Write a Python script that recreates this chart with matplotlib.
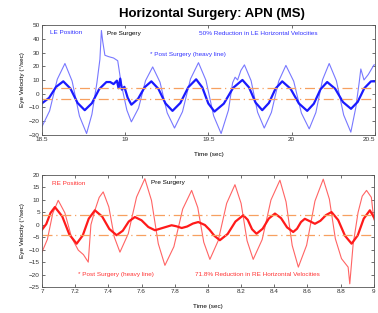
import matplotlib
matplotlib.use("Agg")
import matplotlib.pyplot as plt

# LE (top) - post surgery, heavy line
le_post_t = [18.50, 18.543, 18.585, 18.628, 18.671, 18.714, 18.757, 18.800, 18.844, 18.887,
             18.91, 18.93, 18.95, 18.96, 18.97, 18.98, 18.995, 19.015, 19.037, 19.077, 19.117,
             19.157, 19.199, 19.242, 19.284, 19.331, 19.379, 19.426, 19.463, 19.499, 19.536,
             19.592, 19.648, 19.704, 19.744, 19.783, 19.823, 19.863, 19.903, 19.943, 19.993,
             20.043, 20.093, 20.133, 20.173, 20.213, 20.261, 20.308, 20.356, 20.396, 20.436,
             20.476, 20.50]
le_post_v = [-7, -3, 5, 9, 3.75, -6.75, -12, -6.9, 3.4, 8.5,
             8.5, 7, 9.5, 4, 11, 3, 5, -3, -8, -3.75, 4.75,
             9, 3.6, -7.1, -12.5, -6.75, 4.75, 10.5, 4.6, -7.1, -13,
             -7.25, 4.25, 10, 4.5, -6.5, -12, -6.75, 3.75, 9, 3.6,
             -7.1, -12.5, -7.25, 3.25, 8.5, 3.6, -6.1, -11, -6, 4,
             9, 9]

# LE (top) - pre surgery
le_pre_t = [18.50, 18.546, 18.592, 18.638, 18.681, 18.725, 18.768, 18.80, 18.83, 18.848,
            18.857, 18.865, 18.878, 18.90, 18.93, 18.955, 18.97, 18.985, 19.01, 19.037,
            19.080, 19.122, 19.165, 19.209, 19.252, 19.296, 19.344, 19.392, 19.440, 19.485,
            19.531, 19.576, 19.62, 19.645, 19.66, 19.675, 19.695, 19.716, 19.756, 19.795,
            19.835, 19.878, 19.922, 19.965, 20.012, 20.058, 20.105, 20.145, 20.185, 20.225,
            20.268, 20.312, 20.355, 20.385, 20.405, 20.415, 20.434, 20.46, 20.494, 20.50]
le_pre_v = [-24, -12.5, 10.5, 22, 9.25, -16.25, -29, -15, 8, 25,
            46, 38, 28, 27, 26, 24, 12, 2, -12, -20.5,
            -10.5, 9.5, 19.5, 8.4, -13.9, -25, -13.1, 10.7, 22.6, 9.7,
            -16.1, -29, -12, 8, 12, 10, 17, 21, 9.5, -13.5,
            -25, -13.6, 9.2, 20.6, 9.05, -14.05, -25.6, -13.7, 10.1, 22,
            9.5, -15.5, -28, -10, 8, 18, 10, 14, 21, 21]

# RE (bottom) - post surgery, heavy line
re_post_t = [7.0, 7.026, 7.052, 7.078, 7.122, 7.165, 7.209, 7.246, 7.282, 7.319,
             7.363, 7.406, 7.450, 7.487, 7.523, 7.560, 7.600, 7.641, 7.681, 7.731,
             7.781, 7.81, 7.842, 7.875, 7.91, 7.942, 7.982, 8.01, 8.04, 8.072,
             8.119, 8.166, 8.213, 8.240, 8.266, 8.293, 8.330, 8.367, 8.404, 8.441,
             8.477, 8.514, 8.537, 8.561, 8.584, 8.615, 8.645, 8.678, 8.712, 8.745,
             8.785, 8.826, 8.866, 8.903, 8.939, 8.976, 9.0]
re_post_v = [-2, 0.3, 4.8, 7.1, 3.4, -3.9, -7.6, -4.25, 2.45, 5.8,
             3.3, -1.7, -4.2, -2.4, 1.3, 3.1, 1.8, -0.9, -2.2, -1.2,
             -0.2, -0.6, -1.3, -0.7, 0.5, 1.1, -0.1, -2.0, -4.5, -6.2,
             -3.7, 1.3, 3.8, 2.0, -1.8, -3.6, -1.6, 2.5, 4.5, 2.65,
             -1.05, -2.9, -1.6, 1.1, 2.4, 1.4, 0.4, 1.6, 3.9, 5.1,
             1.9, -4.4, -7.6, -4.25, 2.45, 5.8, 3]

# RE (bottom) - pre surgery
re_pre_t = [7.0, 7.033, 7.065, 7.098, 7.138, 7.179, 7.219, 7.25, 7.279, 7.295,
            7.32, 7.345, 7.369, 7.403, 7.436, 7.470, 7.520, 7.570, 7.620, 7.660,
            7.701, 7.741, 7.795, 7.848, 7.902, 7.939, 7.975, 8.012, 8.062, 8.113,
            8.163, 8.200, 8.236, 8.273, 8.327, 8.380, 8.434, 8.471, 8.508, 8.545,
            8.595, 8.645, 8.695, 8.732, 8.768, 8.805, 8.845, 8.855, 8.875, 8.905,
            8.93, 8.956, 8.985, 9.0]
re_pre_v = [-11, -5.8, 4.6, 9.8, 4.8, -5.2, -10.2, -12, -15, 0,
            6, 11, 13.2, 7.15, -4.95, -11, -3.6, 11.1, 18.5, 9.8,
            -7.6, -16.3, -8.8, 6.3, 13.8, 6.9, -7.0, -13.9, -6.4, 8.6,
            16.1, 8.6, -6.4, -13.9, -5.95, 9.95, 17.9, 9.2, -8.3, -17,
            -8.2, 9.5, 18.3, 10.3, -5.6, -13.6, -17, -23.7, -8, 5,
            11.5, 13.8, 11, 2]

threshold = 4

top_xticks = [18.5, 19, 19.5, 20, 20.5]
top_yticks = [-30, -20, -10, 0, 10, 20, 30, 40, 50]
bot_xticks = [7, 7.2, 7.4, 7.6, 7.8, 8, 8.2, 8.4, 8.6, 8.8, 9]
bot_yticks = [-25, -20, -15, -10, -5, 0, 5, 10, 15, 20]

plt.rcParams['font.family'] = ['Liberation Sans', 'DejaVu Sans']
fig = plt.figure(figsize=(3.78, 3.13), dpi=100)
fs = 4.6

ax1 = fig.add_axes([0.111, 0.569, 0.881, 0.351])
ax2 = fig.add_axes([0.111, 0.083, 0.878, 0.358])

def style(ax):
    ax.tick_params(direction='in', length=2, width=0.5, labelsize=fs, pad=1.5,
                   top=True, right=True, colors='#333333')
    for s in ax.spines.values():
        s.set_linewidth(0.6)
        s.set_color('#555555')

# top panel
ax1.plot(le_pre_t, le_pre_v, color='#7878ff', lw=0.8)
ax1.plot(le_post_t, le_post_v, color='#1a1aff', lw=1.6)
ax1.axhline(threshold, color='#f7a060', lw=0.9, ls=(0, (8, 3, 1, 3)))
ax1.axhline(-threshold, color='#f7a060', lw=0.9, ls=(0, (8, 3, 1, 3)))
ax1.set_xlim(18.5, 20.5)
ax1.set_ylim(-30, 50)
ax1.set_xticks(top_xticks)
ax1.set_xticklabels(['18.5', '19', '19.5', '20', '20.5'])
ax1.get_xticklabels()[-1].set_horizontalalignment('right')
ax1.set_yticks(top_yticks)
ax1.set_xlabel('Time (sec)', fontsize=fs, labelpad=7)
ax1.set_ylabel('Eye Velocity (°/sec)', fontsize=fs, labelpad=3)
style(ax1)
ax1.text(0.024, 0.93, 'LE Position', transform=ax1.transAxes, color='#3333ff',
         fontsize=fs, va='center')
ax1.text(0.195, 0.92, 'Pre Surgery', transform=ax1.transAxes, color='black',
         fontsize=fs, va='center')
ax1.text(0.473, 0.92, '50% Reduction in LE Horizontal Velocities', transform=ax1.transAxes,
         color='#3333ff', fontsize=fs, va='center')
ax1.text(0.323, 0.736, '* Post Surgery (heavy line)', transform=ax1.transAxes,
         color='#3333ff', fontsize=fs, va='center')

# bottom panel
ax2.plot(re_pre_t, re_pre_v, color='#ff6464', lw=0.8)
ax2.plot(re_post_t, re_post_v, color='#ff1a1a', lw=1.6)
ax2.axhline(threshold, color='#f7a060', lw=0.9, ls=(0, (8, 3, 1, 3)))
ax2.axhline(-threshold, color='#f7a060', lw=0.9, ls=(0, (8, 3, 1, 3)))
ax2.set_xlim(7, 9)
ax2.set_ylim(-25, 20)
ax2.set_xticks(bot_xticks)
ax2.set_xticklabels(['7', '7.2', '7.4', '7.6', '7.8', '8', '8.2', '8.4', '8.6', '8.8', '9'])
ax2.set_yticks(bot_yticks)
ax2.set_xlabel('Time (sec)', fontsize=fs, labelpad=7)
ax2.set_ylabel('Eye Velocity (°/sec)', fontsize=fs, labelpad=3)
style(ax2)
ax2.text(0.03, 0.92, 'RE Position', transform=ax2.transAxes, color='#ff3333',
         fontsize=fs, va='center')
ax2.text(0.33, 0.93, 'Pre Surgery', transform=ax2.transAxes, color='black',
         fontsize=fs, va='center')
ax2.text(0.108, 0.116, '* Post Surgery (heavy line)', transform=ax2.transAxes,
         color='#ff3333', fontsize=fs, va='center')
ax2.text(0.46, 0.116, '71.8% Reduction in RE Horizontal Velocities', transform=ax2.transAxes,
         color='#ff3333', fontsize=fs, va='center')

fig.text(0.56, 0.955, 'Horizontal Surgery: APN (MS)', ha='center', va='center',
         fontsize=9.5, fontweight='bold')

fig.savefig('out.png', dpi=100)
